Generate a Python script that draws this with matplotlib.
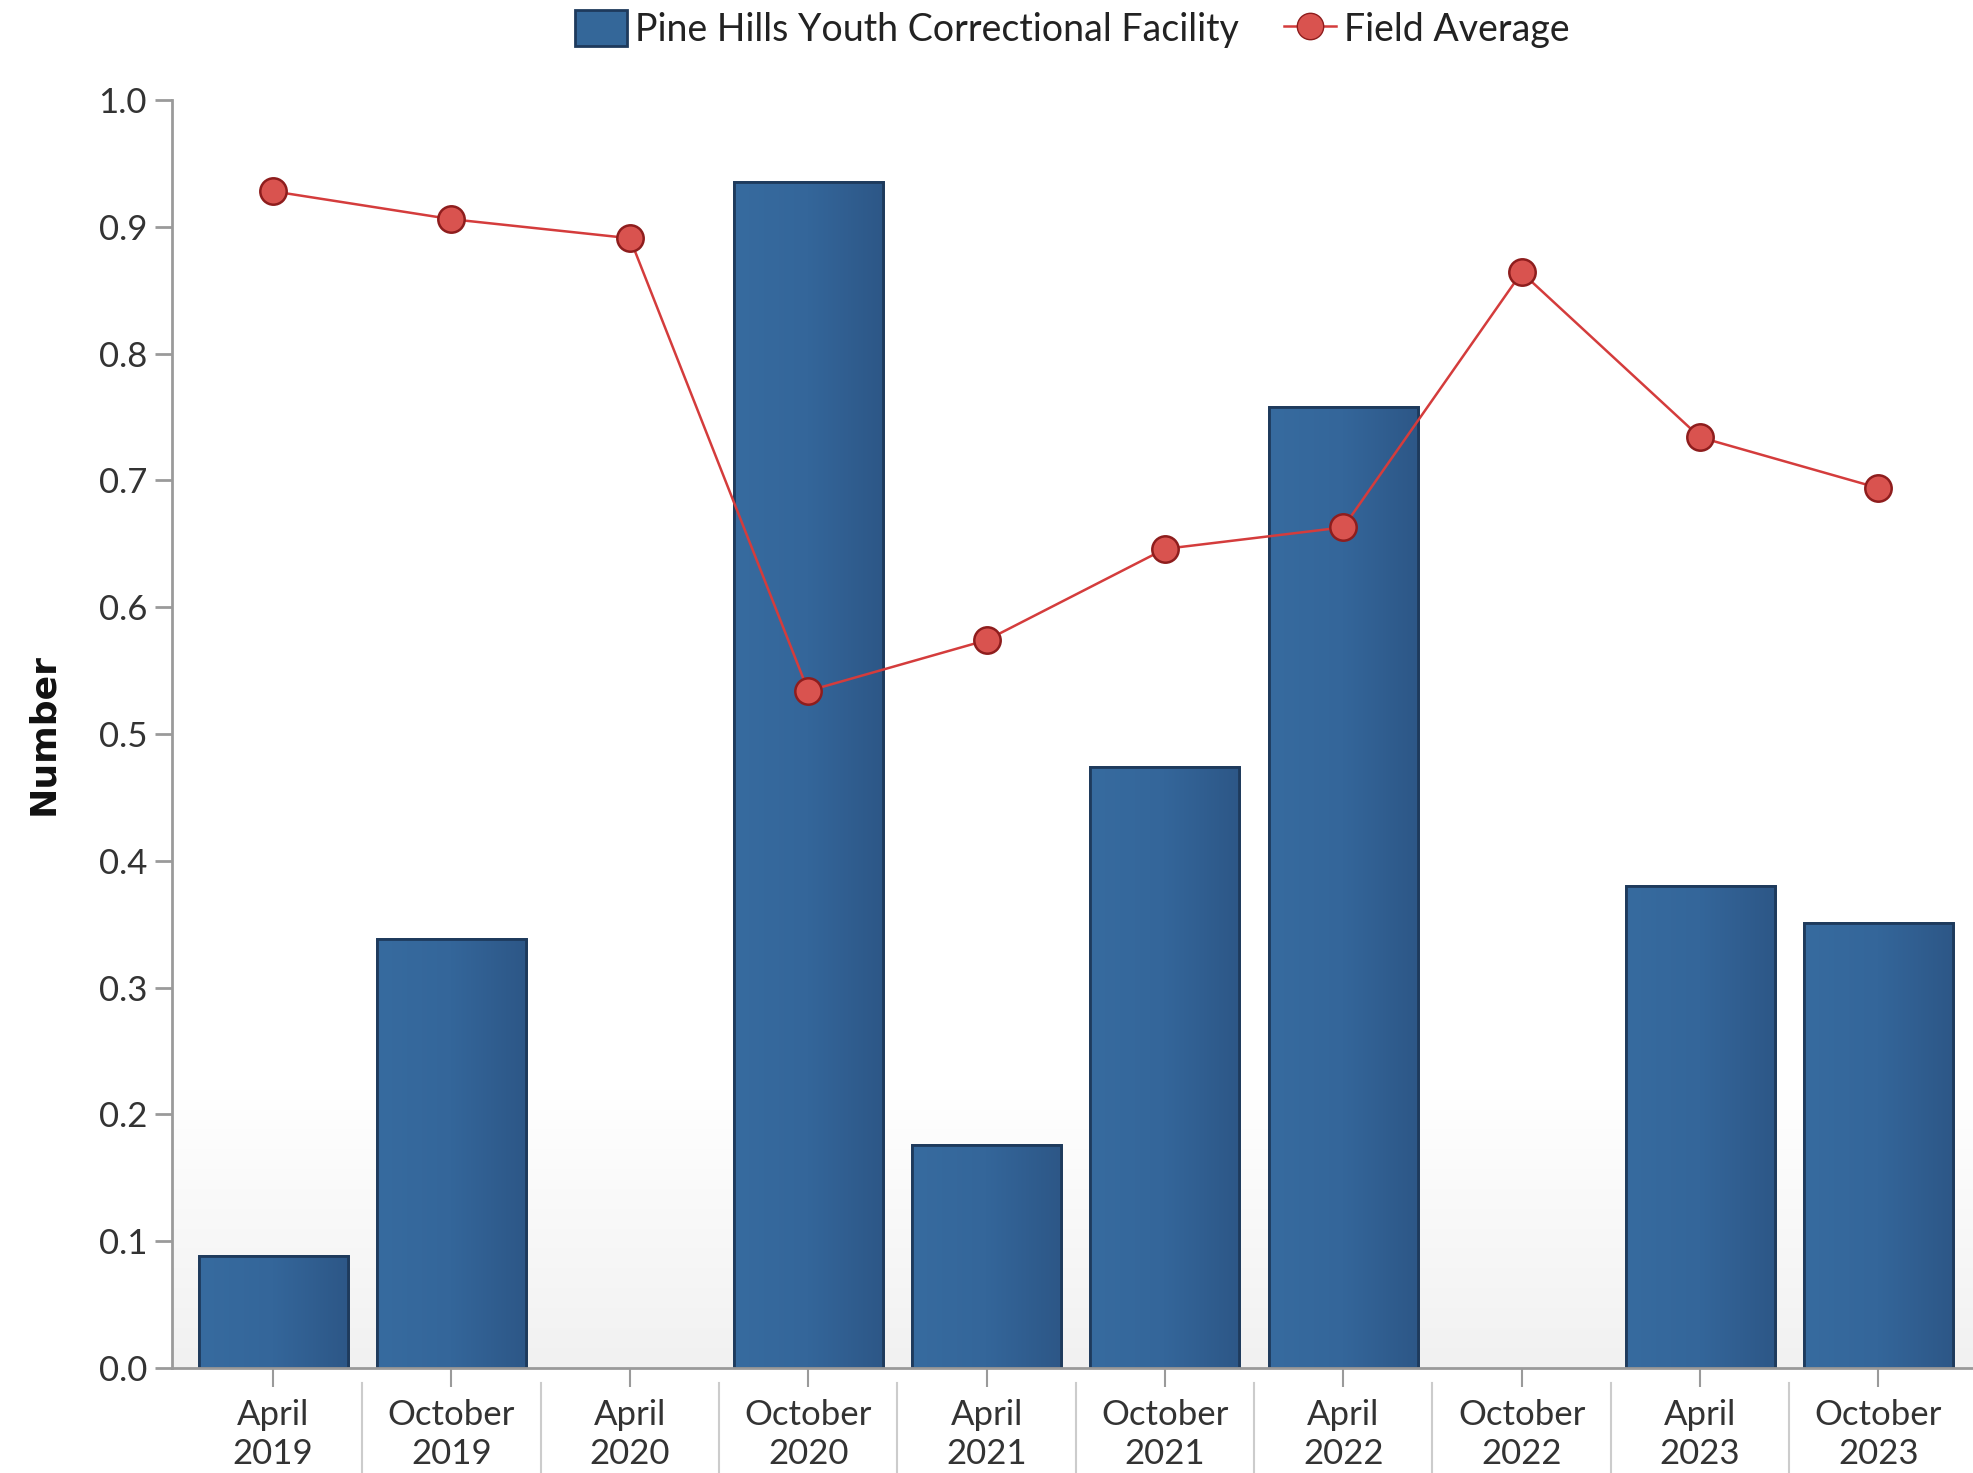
import numpy as np
import matplotlib
matplotlib.use("Agg")
import matplotlib.pyplot as plt
from matplotlib.lines import Line2D
from matplotlib.patches import Patch
import matplotlib.colors as mcolors

categories = ["April\n2019", "October\n2019", "April\n2020", "October\n2020", "April\n2021",
              "October\n2021", "April\n2022", "October\n2022", "April\n2023", "October\n2023"]
facility_values = [0.088, 0.338, 0.0, 0.935, 0.176, 0.474, 0.758, 0.0, 0.380, 0.351]
field_average = [0.928, 0.906, 0.891, 0.534, 0.574, 0.646, 0.663, 0.864, 0.734, 0.694]
y_ticks = [0.0, 0.1, 0.2, 0.3, 0.4, 0.5, 0.6, 0.7, 0.8, 0.9, 1.0]

FONT = "Lato"
plt.rcParams['font.family'] = [FONT, 'DejaVu Sans']

fig = plt.figure(figsize=(19.74, 14.73), dpi=100)
ax = fig.add_axes([172/1974, 1 - 1368/1473, 1 - 172/1974, (1368 - 100)/1473])

x = np.arange(len(categories))
XL = (-0.567, len(categories) - 1 + 0.536)

# background gradient (white to light gray toward bottom)
grad = np.linspace(0, 1, 256).reshape(-1, 1)
bg_cmap = mcolors.LinearSegmentedColormap.from_list("bg", ["#f1f1f1", "#ffffff"])
ax.imshow(grad, extent=[XL[0], XL[1], 0, 0.22], origin="lower",
          aspect="auto", cmap=bg_cmap, zorder=0)

bar_w = 0.835
edge_colors = ["#1e3a5c" if v > 0 else "none" for v in facility_values]
bars = ax.bar(x, facility_values, width=bar_w, color="#346799", edgecolor=edge_colors,
              linewidth=2.0, zorder=2, label="Pine Hills Youth Correctional Facility")

bar_cmap = mcolors.LinearSegmentedColormap.from_list("bar", ["#376b9f", "#34669a", "#2d5787"])
hgrad = np.linspace(0, 1, 256).reshape(1, -1)
for b in bars:
    h = b.get_height()
    if h <= 0:
        continue
    im = ax.imshow(hgrad, extent=[b.get_x(), b.get_x() + b.get_width(), 0, h],
                   aspect="auto", cmap=bar_cmap, zorder=2.1)
    im.set_clip_path(b)
ax.bar(x, facility_values, width=bar_w, facecolor="none", edgecolor=edge_colors,
       linewidth=2.0, zorder=2.2)
ax.set_xlim(*XL)
ax.set_ylim(0, 1.0)

ax.plot(x, field_average, color="#d43c3c", linewidth=1.8, marker="o", markersize=19,
        markerfacecolor="#d9534f", markeredgecolor="#8e1d1d", markeredgewidth=1.8,
        zorder=4, label="Field Average")

# axes styling
for s in ["top", "right"]:
    ax.spines[s].set_visible(False)
for s in ["left", "bottom"]:
    ax.spines[s].set_color("#9a9a9a")
    ax.spines[s].set_linewidth(2.0)
ax.spines["bottom"].set_zorder(5)

ax.set_yticks(y_ticks)
ax.set_yticklabels([f"{v:.1f}" for v in y_ticks])
ax.set_xticks(x)
ax.set_xticklabels(categories, linespacing=1.3)
ax.tick_params(axis="y", direction="out", length=12, width=2, color="#9a9a9a",
               labelsize=25, labelcolor="#333333", pad=6)
ax.tick_params(axis="x", direction="out", length=14, width=1.5, color="#9a9a9a",
               labelsize=25, labelcolor="#333333", pad=8)

# category separators below the axis
for i in range(len(categories) - 1):
    xm = i + 0.5
    ax.plot([xm, xm], [-0.012, -0.09], color="#cccccc", linewidth=1.5,
            transform=ax.transData, clip_on=False, zorder=1)

ax.set_ylabel("Number", fontsize=26, fontweight="bold", color="#111111",
              family=["DejaVu Sans"])
ax.yaxis.set_label_coords(-(172 - 60) / (1974 - 172), 0.5)

handles = [Patch(facecolor="#346799", edgecolor="#1e3a5c", linewidth=2),
           Line2D([0], [0], color="#d43c3c", linewidth=1.8, marker="o", markersize=19,
                  markerfacecolor="#d9534f", markeredgecolor="#8e1d1d")]
fig.legend(handles, ["Pine Hills Youth Correctional Facility", "Field Average"],
           loc="center", bbox_to_anchor=(0.543, 1 - 29/1473), ncol=2, frameon=False,
           fontsize=27, handlelength=1.4, handleheight=1.1, columnspacing=1.2,
           handletextpad=0.2, labelcolor="#222222")

fig.savefig("out.png", dpi=100)
